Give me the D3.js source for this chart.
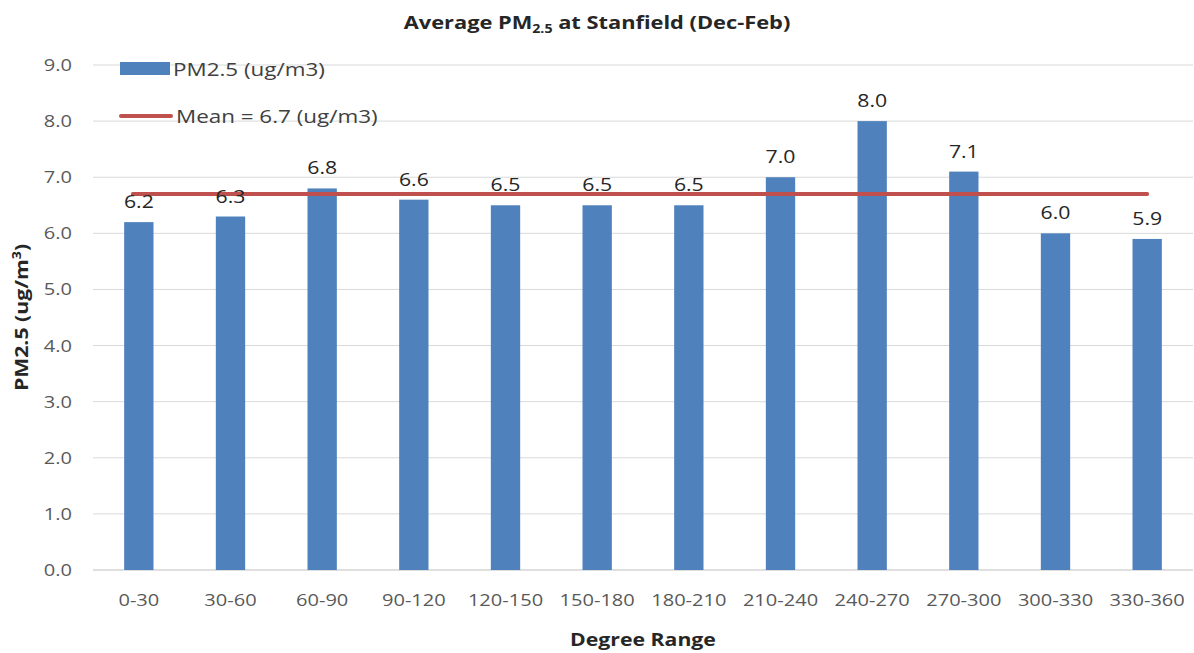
<!DOCTYPE html>
<html>
<head>
<meta charset="utf-8">
<script src="https://cdn.jsdelivr.net/npm/d3@7"></script>
<style>
  body { margin: 0; background: #fff; }
  text { font-family: "Open Sans", "Noto Sans", sans-serif; }
</style>
</head>
<body>
<div id="chart"></div>
<script>
let categories = ["0-30", "30-60", "60-90", "90-120", "120-150", "150-180",
    "180-210", "210-240", "240-270", "270-300", "300-330", "330-360"]
let values = [6.2, 6.3, 6.8, 6.6, 6.5, 6.5, 6.5, 7.0, 8.0, 7.1, 6.0, 5.9]
let meanValue = 6.7
let yTicks = [0, 1, 2, 3, 4, 5, 6, 7, 8, 9]

let margin = {top: 65, right: 1, bottom: 83, left: 93}
let width = 1194 - margin.left - margin.right
let height = 653 - margin.top - margin.bottom

// the source text is drawn a bit wide, so stretch it horizontally
let sx = 1.18
function place(x, y) {
    return "translate(" + x + "," + y + ") scale(" + sx + ",1)"
}

let svg = d3.select("#chart")
    .append("svg")
    .attr("width", 1194)
    .attr("height", 653)

let g = svg.append("g")
    .attr("transform", "translate(" + margin.left + "," + margin.top + ")")

let x = d3.scaleBand()
    .domain(categories)
    .range([0, width])
    .paddingInner(0.68)
    .paddingOuter(0.34)

let y = d3.scaleLinear()
    .domain([0, 9])
    .range([height, 0])

// gridlines
g.selectAll(".grid")
    .data(yTicks)
    .enter()
    .append("line")
    .attr("x1", 0)
    .attr("x2", width)
    .attr("y1", d => y(d))
    .attr("y2", d => y(d))
    .attr("stroke", d => d === 0 ? "#bfbfbf" : "#d9d9d9")
    .attr("stroke-width", 1)

// y tick labels
g.selectAll(".ytick")
    .data(yTicks)
    .enter()
    .append("text")
    .attr("transform", d => place(-21, y(d)))
    .attr("dy", "0.35em")
    .attr("text-anchor", "end")
    .attr("fill", "#595959")
    .style("font-size", "17px")
    .text(d => d.toFixed(1))

// x tick labels
g.selectAll(".xtick")
    .data(categories)
    .enter()
    .append("text")
    .attr("transform", d => place(x(d) + x.bandwidth() / 2, height + 30))
    .attr("dy", "0.35em")
    .attr("text-anchor", "middle")
    .attr("fill", "#595959")
    .style("font-size", "17px")
    .text(d => d)

// bars
g.selectAll(".bar")
    .data(values)
    .enter()
    .append("rect")
    .attr("x", (d, i) => x(categories[i]))
    .attr("width", x.bandwidth())
    .attr("y", d => y(d))
    .attr("height", d => height - y(d))
    .attr("fill", "#4f81bd")

// mean line
g.append("line")
    .attr("x1", x(categories[0]) + x.bandwidth() / 2 - 6)
    .attr("x2", x(categories[categories.length - 1]) + x.bandwidth() / 2)
    .attr("y1", y(meanValue))
    .attr("y2", y(meanValue))
    .attr("stroke", "#c0504d")
    .attr("stroke-width", 4)
    .attr("stroke-linecap", "round")

// data labels
g.selectAll(".label")
    .data(values)
    .enter()
    .append("text")
    .attr("transform", (d, i) => place(x(categories[i]) + x.bandwidth() / 2, y(d) - 14))
    .attr("text-anchor", "middle")
    .attr("fill", "#262626")
    .style("font-size", "18px")
    .text(d => d.toFixed(1))

// title
let title = svg.append("text")
    .attr("transform", place(597, 29))
    .attr("text-anchor", "middle")
    .attr("fill", "#262626")
    .style("font-size", "18.5px")
    .style("font-weight", "bold")
title.append("tspan").text("Average PM")
title.append("tspan").attr("dy", 4).style("font-size", "12px").text("2.5")
title.append("tspan").attr("dy", -4).text(" at Stanfield (Dec-Feb)")

// axis titles
let yTitle = svg.append("text")
    .attr("transform", "translate(28," + (margin.top + height / 2) + ")rotate(-90)scale(" + sx + ",1)")
    .attr("text-anchor", "middle")
    .attr("fill", "#262626")
    .style("font-size", "18px")
    .style("font-weight", "bold")
yTitle.append("tspan").text("PM2.5 (ug/m")
yTitle.append("tspan").attr("dy", -7).style("font-size", "12px").text("3")
yTitle.append("tspan").attr("dy", 7).text(")")

svg.append("text")
    .attr("transform", place(margin.left + width / 2, 646))
    .attr("text-anchor", "middle")
    .attr("fill", "#262626")
    .style("font-size", "18px")
    .style("font-weight", "bold")
    .text("Degree Range")

// legend
let legend = svg.append("g")
legend.append("rect")
    .attr("x", 120).attr("y", 62)
    .attr("width", 50).attr("height", 13)
    .attr("fill", "#4f81bd")
legend.append("text")
    .attr("transform", place(173, 69))
    .attr("dy", "0.35em")
    .attr("fill", "#404040")
    .style("font-size", "19px")
    .text("PM2.5 (ug/m3)")
legend.append("line")
    .attr("x1", 121).attr("x2", 171)
    .attr("y1", 116).attr("y2", 116)
    .attr("stroke", "#c0504d")
    .attr("stroke-width", 4)
    .attr("stroke-linecap", "round")
legend.append("text")
    .attr("transform", place(176, 116))
    .attr("dy", "0.35em")
    .attr("fill", "#404040")
    .style("font-size", "19px")
    .text("Mean = 6.7 (ug/m3)")
</script>
</body>
</html>
